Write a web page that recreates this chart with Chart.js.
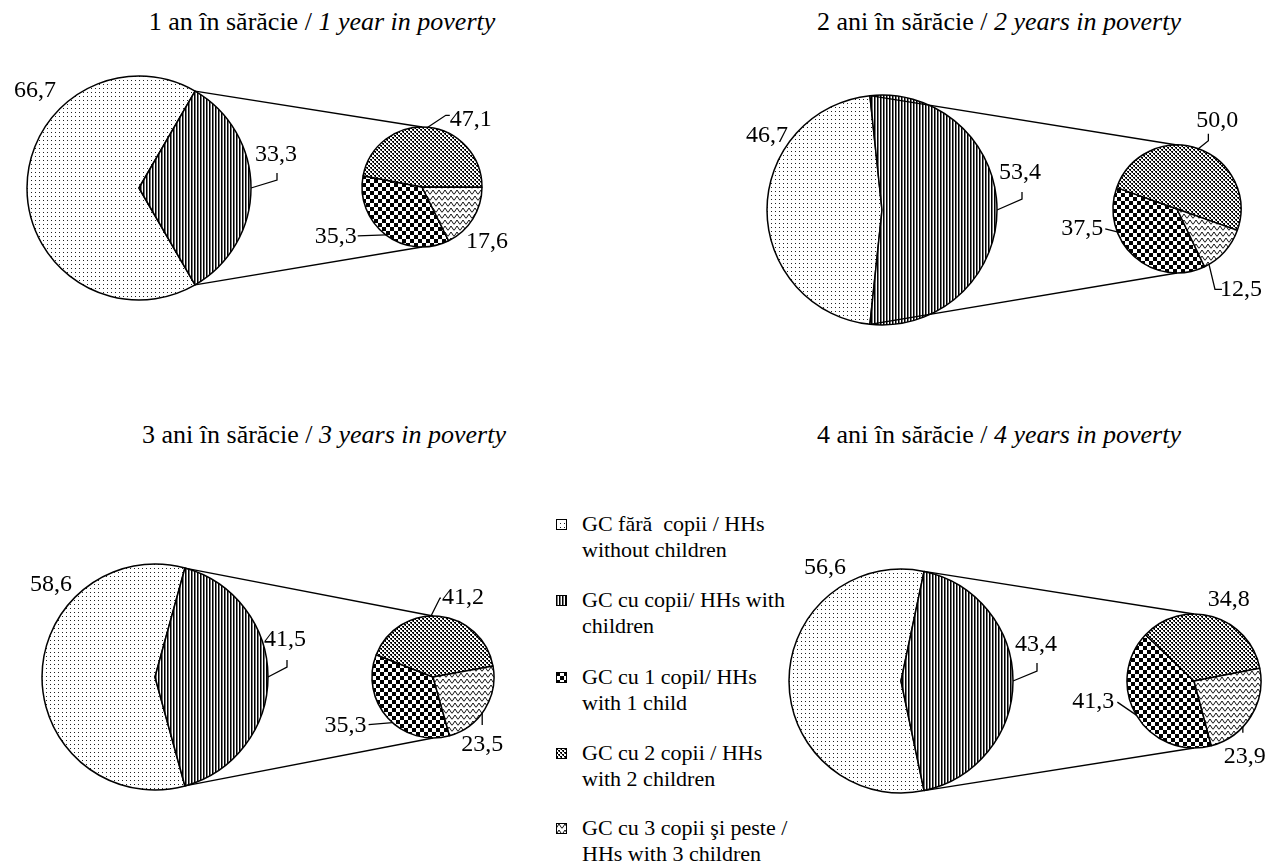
<!DOCTYPE html>
<html>
<head>
<meta charset="utf-8">
<script src="https://cdn.jsdelivr.net/npm/chart.js@4.4.1/dist/chart.umd.min.js"></script>
<style>
  html, body { margin: 0; padding: 0; background: #fff; }
  #wrap { position: relative; width: 1265px; height: 863px; overflow: hidden; background: #fff;
          font-family: "Liberation Serif", "Times New Roman", serif; color: #000; }
  .pie { position: absolute; }
  .title { position: absolute; font-size: 26px; line-height: 1; white-space: nowrap; transform: translate(-50%, -50%); }
  .legend { position: absolute; left: 556px; top: 0; }
  .entry { position: absolute; left: 0; white-space: nowrap; font-size: 22px; line-height: 26px; }
  .entry canvas { position: absolute; left: 0; top: 8px; }
  .entry div { padding-left: 26px; }
  #overlay { position: absolute; left: 0; top: 0; pointer-events: none; }
</style>
</head>
<body>
<div id="wrap"></div>
<script>
// ---------------- DATA ----------------
const titlesRo = ["1 an în sărăcie", "2 ani în sărăcie", "3 ani în sărăcie", "4 ani în sărăcie"];
const titlesEn = ["1 year in poverty", "2 years in poverty", "3 years in poverty", "4 years in poverty"];
const mainCategories = ["GC fără copii / HHs without children", "GC cu copii/ HHs with children"];
const subCategories = ["GC cu 1 copil/ HHs with 1 child", "GC cu 2 copii / HHs with 2 children", "GC cu 3 copii şi peste / HHs with 3 children"];
const withoutChildren   = [66.7, 46.7, 58.6, 56.6];
const withChildren      = [33.3, 53.4, 41.5, 43.4];
const oneChild          = [35.3, 37.5, 35.3, 41.3];
const twoChildren       = [47.1, 50.0, 41.2, 34.8];
const threePlusChildren = [17.6, 12.5, 23.5, 23.9];
const legendLines = [
  ["GC fără\u00a0 copii / HHs", "without children"],
  ["GC cu copii/ HHs with", "children"],
  ["GC cu 1 copil/ HHs", "with 1 child"],
  ["GC cu 2 copii / HHs", "with 2 children"],
  ["GC cu 3 copii şi peste /", "HHs with 3 children"]
];

// ---------------- LAYOUT / STYLE ----------------
const layout = [
  { title: {x: 322, y: 22},
    big: {cx: 139, cy: 188, r: 112}, small: {cx: 422, cy: 187, r: 60, mid3: 32},
    mainLbl: [{dx: 8, dy: -97}, {dx: 25, dy: -33, lead: [[26, -8], [26, -15]]}],
    subLbl: [{dx: -50, dy: 2, lead: [[-28, 1]]}, {dx: 43, dy: -8, lead: [[18, -12], [22, -12]]}, {dx: 14, dy: 23}] },
  { title: {x: 999, y: 22},
    big: {cx: 882, cy: 210, r: 115}, small: {cx: 1177, cy: 209, r: 64, mid3: 42},
    mainLbl: [{dx: 0, dy: -74}, {dx: 23, dy: -37, lead: [[25, -11], [25, -18]]}],
    subLbl: [{f: 0.7, dx: -35, dy: -3, lead: [[-12, -3]]}, {dx: 19, dy: -28, lead: [[10, -8], [10, -15]]}, {f: 0.9, dx: 32, dy: 25, lead: [[6, 25], [13, 25]]}] },
  { title: {x: 324, y: 435},
    big: {cx: 155, cy: 677, r: 113}, small: {cx: 433, cy: 677, r: 61, mid3: 32},
    mainLbl: [{dx: 9, dy: -92}, {dx: 17, dy: -37, lead: [[19, -10], [19, -17]]}],
    subLbl: [{f: 0.45, dx: -47, dy: 3, lead: [[-24, 2]]}, {f: 0.45, dx: 32, dy: -18, lead: [[9, -18], [10, -18]]}, {f: 0.55, dx: 0, dy: 32, lead: [[0, 12]]}] },
  { title: {x: 999, y: 435},
    big: {cx: 901, cy: 681, r: 112}, small: {cx: 1194, cy: 681, r: 67, mid3: 32},
    mainLbl: [{dx: 36, dy: -113}, {dx: 23, dy: -36, lead: [[24, -10], [24, -18]]}],
    subLbl: [{dx: -43, dy: -13, lead: [[-19, -13]]}, {dx: 16, dy: -17}, {f: 0.63, dx: 2, dy: 30, lead: [[0, 6]]}] }
];
const legendTops = [511, 587, 664, 740, 815];
const LABEL_FONT = '24px "Liberation Serif", "Times New Roman", serif';

// ---------------- PATTERNS ----------------
function mkTile(w, h, fn) {
  const c = document.createElement('canvas'); c.width = w; c.height = h;
  const g = c.getContext('2d'); g.fillStyle = '#fff'; g.fillRect(0, 0, w, h); fn(g); return c;
}
const tiles = [
  mkTile(4, 4, g => { g.fillStyle = '#222'; g.fillRect(0, 0, 1, 1); }),                    // without children
  mkTile(3, 1, g => { g.fillStyle = '#000'; g.fillRect(0, 0, 1, 1); g.fillStyle = '#777'; g.fillRect(1, 0, 1, 1); }), // with children
  mkTile(8, 8, g => { g.fillStyle = '#000'; g.fillRect(0, 0, 4, 4); g.fillRect(4, 4, 4, 4); }), // 1 child
  mkTile(4, 4, g => { g.fillStyle = '#000'; g.fillRect(0, 0, 2, 1); g.fillRect(1, 1, 1, 1);
                      g.fillRect(2, 2, 2, 1); g.fillRect(3, 3, 1, 1); g.fillStyle = '#888'; g.fillRect(0, 1, 1, 1); g.fillRect(2, 3, 1, 1); }), // 2 children
  mkTile(6, 6, g => { g.strokeStyle = '#111'; g.lineWidth = 1; g.beginPath();
                      g.moveTo(0, 5.5); g.lineTo(3, 1); g.lineTo(6, 5.5); g.stroke(); })     // 3+ children
];

const wrap = document.getElementById('wrap');
const fmt = v => v.toFixed(1).replace('.', ',');

// ---------------- TITLES ----------------
layout.forEach((L, i) => {
  const d = document.createElement('div');
  d.className = 'title';
  d.style.left = L.title.x + 'px';
  d.style.top = L.title.y + 'px';
  d.innerHTML = titlesRo[i] + ' / <i>' + titlesEn[i] + '</i>';
  wrap.appendChild(d);
});

// ---------------- LEGEND ----------------
const leg = document.createElement('div'); leg.className = 'legend'; wrap.appendChild(leg);
legendLines.forEach((lines, i) => {
  const e = document.createElement('div'); e.className = 'entry'; e.style.top = legendTops[i] + 'px';
  const sw = document.createElement('canvas'); sw.width = 11; sw.height = 11;
  const g = sw.getContext('2d');
  g.fillStyle = g.createPattern(tiles[i], 'repeat'); g.fillRect(0, 0, 11, 11);
  g.strokeStyle = '#000'; g.lineWidth = 1; g.strokeRect(0.5, 0.5, 10, 10);
  e.appendChild(sw);
  const t = document.createElement('div'); t.innerHTML = lines.join('<br>'); e.appendChild(t);
  leg.appendChild(e);
});

// ---------------- PIES ----------------
function makePie(spec, labels, values, tileIdx, rotation) {
  const S = Math.round(2 * spec.r + 8);
  const cv = document.createElement('canvas');
  cv.className = 'pie'; cv.width = S; cv.height = S;
  cv.style.width = S + 'px'; cv.style.height = S + 'px';
  const left = Math.round(spec.cx - S / 2), top = Math.round(spec.cy - S / 2);
  cv.style.left = left + 'px'; cv.style.top = top + 'px';
  wrap.appendChild(cv);
  const ctx = cv.getContext('2d');
  const colors = tileIdx.map(k => ctx.createPattern(tiles[k], 'repeat'));
  const chart = new Chart(cv, {
    type: 'pie',
    data: { labels: labels, datasets: [{ data: values, backgroundColor: colors, borderColor: '#000',
            borderWidth: 1.5, hoverOffset: 0, radius: spec.r }] },
    options: { responsive: false, animation: false, events: [], rotation: rotation,
               layout: { padding: 0 },
               plugins: { legend: { display: false }, tooltip: { enabled: false } } }
  });
  chart._pageOffset = { left, top };
  return chart;
}

const panels = layout.map((L, i) => {
  const mainVals = [withoutChildren[i], withChildren[i]];
  const mt = mainVals[0] + mainVals[1];
  const mStart = -(mainVals[0] / mt * 360 + mainVals[1] / mt * 180);   // "with" slice centred on the right
  const big = makePie(L.big, mainCategories, mainVals, [0, 1], mStart + 90);
  const subVals = [oneChild[i], twoChildren[i], threePlusChildren[i]];
  const st = subVals[0] + subVals[1] + subVals[2];
  const sStart = L.small.mid3 + subVals[2] / st * 180;
  const small = makePie(L.small, subCategories, subVals, [2, 3, 4], sStart + 90);
  return { L, big, small, mainVals, subVals };
});

// ---------------- OVERLAY: connectors, labels, leaders ----------------
const dpr = window.devicePixelRatio || 1;
const ov = document.createElement('canvas'); ov.id = 'overlay';
ov.width = 1265 * dpr; ov.height = 863 * dpr; ov.style.width = '1265px'; ov.style.height = '863px';
wrap.appendChild(ov);

function arcPoint(chart, idx, f) {
  const el = chart.getDatasetMeta(0).data[idx];
  const a = el.startAngle + f * (el.endAngle - el.startAngle);
  const o = chart._pageOffset;
  return [o.left + el.x + el.outerRadius * Math.cos(a), o.top + el.y + el.outerRadius * Math.sin(a)];
}
function drawOverlay() {
  const c = ov.getContext('2d');
  c.setTransform(dpr, 0, 0, dpr, 0, 0);
  c.clearRect(0, 0, 1265, 863);
  c.strokeStyle = '#000'; c.fillStyle = '#000'; c.lineWidth = 1.3;
  c.font = LABEL_FONT; c.textAlign = 'center'; c.textBaseline = 'middle';
  panels.forEach(p => {
    // connector lines
    const p1 = arcPoint(p.big, 1, 0), p2 = arcPoint(p.big, 1, 1);
    const sm = p.small.getDatasetMeta(0).data[0], so = p.small._pageOffset;
    const sx = so.left + sm.x, sy = so.top + sm.y, sr = sm.outerRadius;
    c.beginPath(); c.moveTo(p1[0], p1[1]); c.lineTo(sx, sy - sr); c.stroke();
    c.beginPath(); c.moveTo(p2[0], p2[1]); c.lineTo(sx, sy + sr); c.stroke();
    // labels
    const doLabels = (chart, vals, specs) => {
      vals.forEach((v, k) => {
        const s = specs[k];
        const a = arcPoint(chart, k, s.f === undefined ? 0.5 : s.f);
        if (s.lead) {
          c.beginPath(); c.moveTo(a[0], a[1]);
          s.lead.forEach(pt => c.lineTo(a[0] + pt[0], a[1] + pt[1]));
          c.stroke();
        }
        c.fillText(fmt(v), a[0] + s.dx, a[1] + s.dy);
      });
    };
    doLabels(p.big, p.mainVals, p.L.mainLbl);
    doLabels(p.small, p.subVals, p.L.subLbl);
  });
}
drawOverlay();
if (document.fonts && document.fonts.ready) document.fonts.ready.then(drawOverlay);
</script>
</body>
</html>
